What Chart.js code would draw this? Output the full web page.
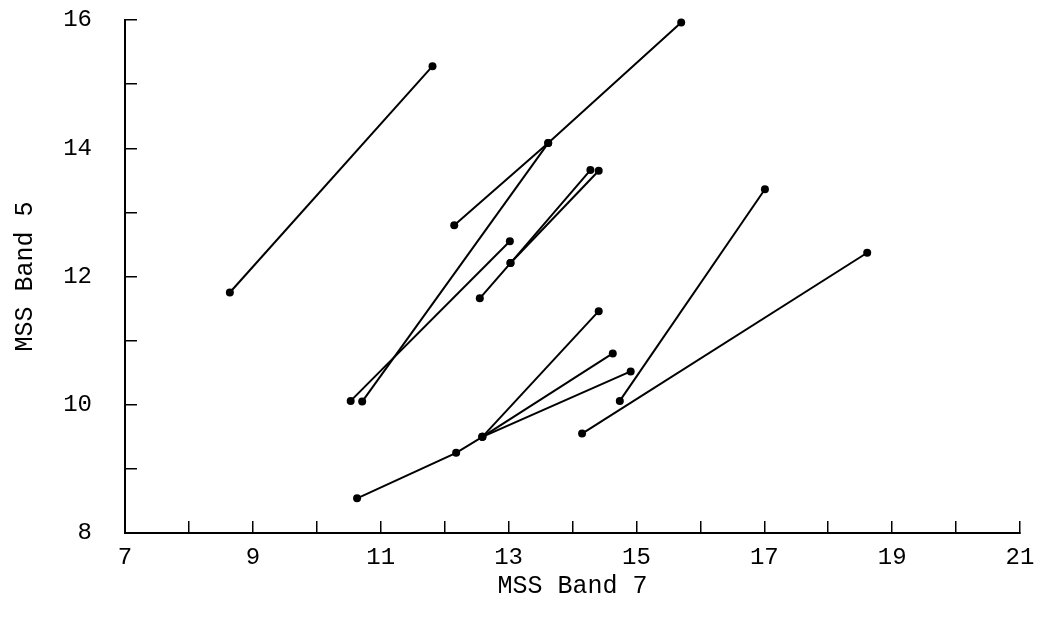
<!DOCTYPE html>
<html>
<head>
<meta charset="utf-8">
<script src="https://cdn.jsdelivr.net/npm/chart.js@4"></script>
<style>
  html, body { margin: 0; padding: 0; background: #ffffff; }
  #wrap { width: 1052px; height: 622px; }
</style>
</head>
<body>
<div id="wrap"><canvas id="c" width="1052" height="622"></canvas></div>
<script>
// MSS Band 7 (x) and MSS Band 5 (y) values for each connected trace
const band7 = [
  [8.64, 11.81],
  [12.15, 13.62, 15.70],
  [13.62, 10.71],
  [10.53, 13.02],
  [12.55, 13.03, 14.28],
  [13.03, 14.41],
  [10.63, 12.18, 12.59, 14.91],
  [12.59, 14.41],
  [12.59, 14.63],
  [14.74, 17.01],
  [14.15, 18.61]
];
const band5 = [
  [11.75, 15.28],
  [12.80, 14.08, 15.96],
  [14.08, 10.05],
  [10.06, 12.55],
  [11.66, 12.21, 13.66],
  [12.21, 13.65],
  [8.54, 9.25, 9.50, 10.52],
  [9.50, 11.46],
  [9.50, 10.80],
  [10.06, 13.36],
  [9.55, 12.37]
];
const xTicks = [7, 9, 11, 13, 15, 17, 19, 21];
const yTicks = [8, 10, 12, 14, 16];
const xTitle = 'MSS Band 7';
const yTitle = 'MSS Band 5';

const FONT = "'Liberation Mono', 'DejaVu Sans Mono', monospace";

const datasets = band7.map((xs, i) => ({
  data: xs.map((x, j) => ({ x: x, y: band5[i][j] })),
  showLine: true,
  clip: false,
  borderColor: '#000',
  borderWidth: 2,
  pointRadius: 4,
  pointBackgroundColor: '#000',
  pointBorderColor: '#000',
  pointBorderWidth: 0,
  fill: false,
  tension: 0
}));

new Chart(document.getElementById('c'), {
  type: 'scatter',
  data: { datasets },
  options: {
    responsive: false,
    animation: false,
    devicePixelRatio: 1,
    layout: { padding: { left: 0, top: 20, right: 32, bottom: 0 } },
    plugins: { legend: { display: false }, tooltip: { enabled: false } },
    scales: {
      x: {
        type: 'linear',
        min: 7, max: 21,
        afterFit: s => { s.height = 89; s.paddingLeft = 0; s.paddingRight = 0; },
        border: { display: true, color: '#000', width: 2 },
        grid: { drawOnChartArea: false, drawTicks: true, tickLength: -12, color: '#000', lineWidth: 1.5 },
        ticks: {
          stepSize: 1, autoSkip: false, maxRotation: 0, padding: 22,
          color: '#000', font: { family: FONT, size: 24 },
          callback: v => xTicks.includes(v) ? String(v) : ''
        },
        title: { display: true, text: xTitle, color: '#000', font: { family: FONT, size: 25 }, padding: { top: 0, bottom: 21 } }
      },
      y: {
        type: 'linear',
        min: 8, max: 16,
        afterFit: s => { s.width = 125; s.paddingTop = 0; s.paddingBottom = 0; },
        border: { display: true, color: '#000', width: 2 },
        grid: { drawOnChartArea: false, drawTicks: true, tickLength: -12, color: '#000', lineWidth: 1.5 },
        ticks: {
          stepSize: 1, autoSkip: false, padding: 45,
          color: '#000', font: { family: FONT, size: 24 },
          callback: v => yTicks.includes(v) ? String(v) : ''
        },
        title: { display: true, text: yTitle, color: '#000', font: { family: FONT, size: 25 }, padding: { top: 10, bottom: 0 } }
      }
    }
  }
});
</script>
</body>
</html>
